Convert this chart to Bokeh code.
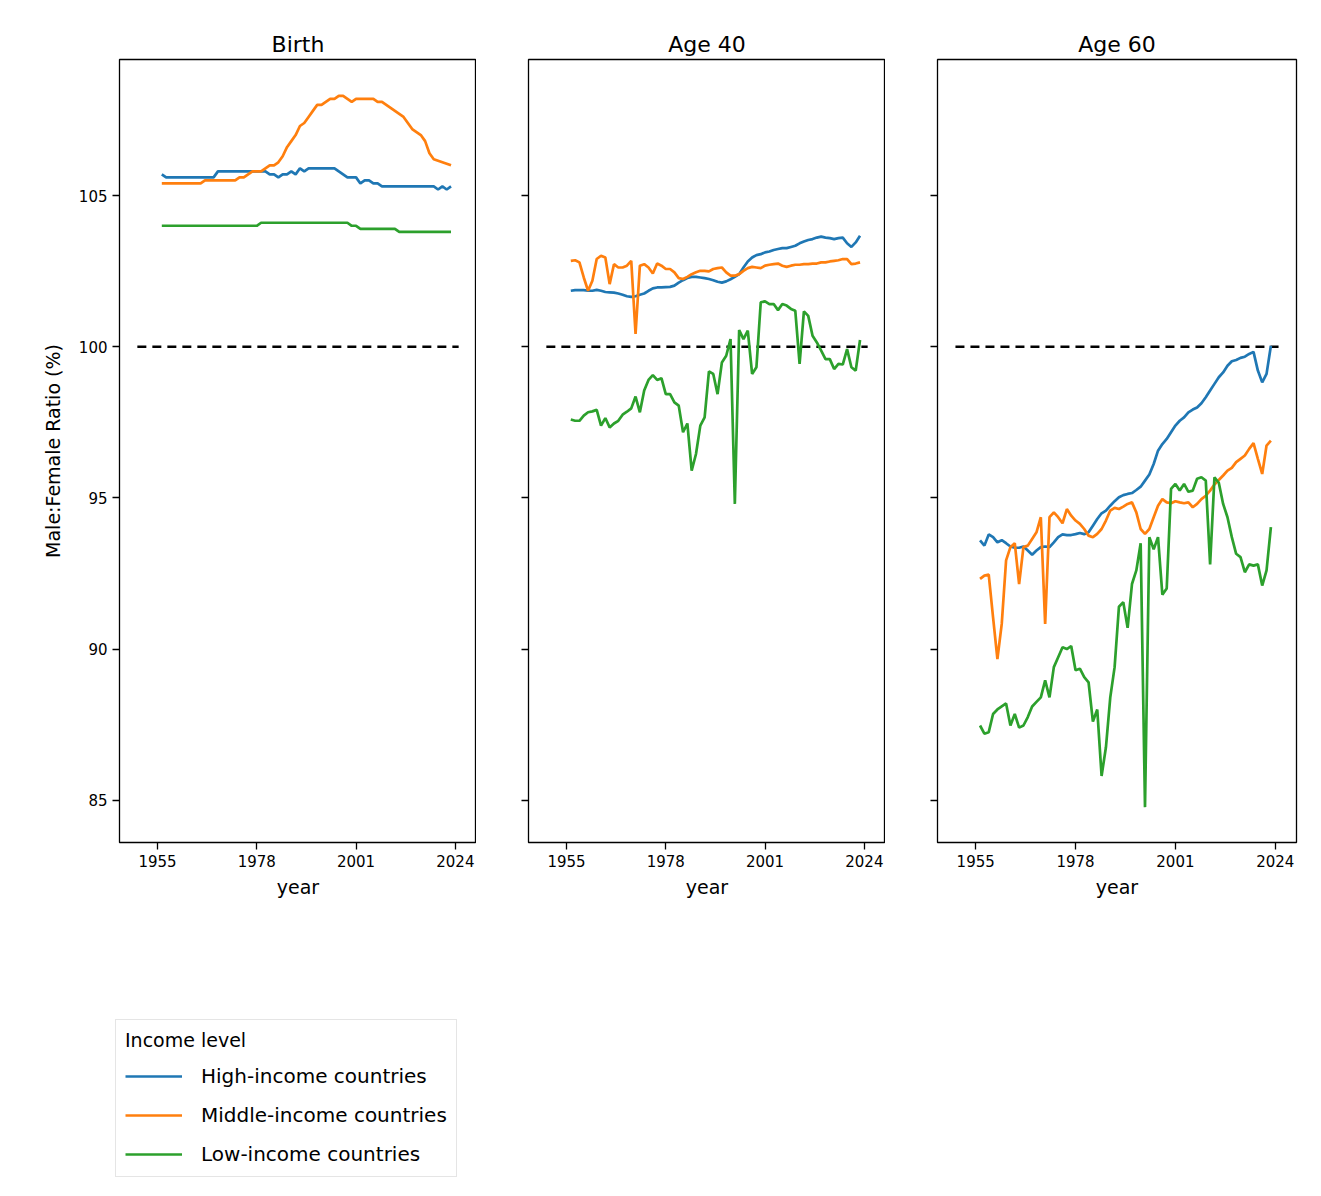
from bokeh.plotting import figure
from bokeh.layouts import column, row
from bokeh.models import Range1d, Legend, LegendItem, FixedTicker
from bokeh.embed import file_html
from bokeh.resources import INLINE

years = list(range(1956, 2024))
x_ticks = [1955, 1978, 2001, 2024]
y_ticks = [85, 90, 95, 100, 105]
panels = ["Birth", "Age 40", "Age 60"]
series_names = ["High-income countries", "Middle-income countries", "Low-income countries"]
colors = ["#1f77b4", "#ff7f0e", "#2ca02c"]

birth_high = [105.7] + [105.6]*12 + [105.8]*12 + [105.7, 105.7, 105.6, 105.7, 105.7, 105.8, 105.7, 105.9, 105.8] \
    + [105.9]*7 + [105.8, 105.7, 105.6, 105.6] + [105.6, 105.4, 105.5, 105.5, 105.4, 105.4] + [105.3]*13 \
    + [105.2, 105.3, 105.2, 105.3]
birth_mid = [105.4]*10 + [105.5]*8 + [105.6, 105.6, 105.7, 105.8] + [105.8, 105.8, 105.9, 106.0, 106.0, 106.1] \
    + [106.3, 106.6, 106.8, 107.0, 107.3, 107.4, 107.6] + [107.8, 108.0, 108.0, 108.1, 108.2, 108.2, 108.3, 108.3, 108.2, 108.1] \
    + [108.2, 108.2, 108.2, 108.2, 108.2, 108.1, 108.1, 108.0, 107.9, 107.8] \
    + [107.7, 107.6, 107.4, 107.2, 107.1, 107.0, 106.8, 106.4, 106.2, 106.15, 106.1, 106.05, 106.0]
birth_low = [104.0]*23 + [104.1]*21 + [104.0]*2 + [103.9]*9 + [103.8]*13

age40_high = [101.85, 101.87, 101.87, 101.87, 101.85, 101.85, 101.88, 101.85, 101.81, 101.8,
              101.79, 101.76, 101.72, 101.67, 101.65, 101.67, 101.72, 101.76, 101.85, 101.93,
              101.96, 101.96, 101.97, 101.98, 102.02, 102.12, 102.2, 102.27, 102.31, 102.31,
              102.29, 102.27, 102.24, 102.2, 102.15, 102.12, 102.16, 102.23, 102.31, 102.4,
              102.62, 102.82, 102.95, 103.03, 103.06, 103.12, 103.15, 103.2, 103.23, 103.26,
              103.26, 103.3, 103.34, 103.42, 103.48, 103.53, 103.56, 103.61, 103.64, 103.61,
              103.59, 103.56, 103.59, 103.61, 103.42, 103.3, 103.45, 103.67]
age40_mid = [102.84, 102.86, 102.79, 102.29, 101.85, 102.18, 102.9, 103.01, 102.95, 102.07,
             102.73, 102.62, 102.62, 102.68, 102.84, 100.42, 102.68, 102.73, 102.62, 102.42,
             102.75, 102.68, 102.57, 102.57, 102.46, 102.27, 102.24, 102.31, 102.4, 102.46,
             102.51, 102.51, 102.49, 102.57, 102.6, 102.62, 102.46, 102.35, 102.35, 102.4,
             102.51, 102.6, 102.64, 102.62, 102.6, 102.68, 102.71, 102.73, 102.75, 102.68,
             102.64, 102.68, 102.71, 102.71, 102.73, 102.73, 102.75, 102.75, 102.79, 102.79,
             102.82, 102.84, 102.86, 102.9, 102.9, 102.73, 102.75, 102.79]
age40_low = [97.59, 97.55, 97.55, 97.72, 97.83, 97.86, 97.91, 97.39, 97.64, 97.33,
             97.46, 97.55, 97.75, 97.85, 97.96, 98.35, 97.83, 98.55, 98.9, 99.06,
             98.9, 98.96, 98.43, 98.43, 98.16, 98.05, 97.17, 97.46, 95.9, 96.45,
             97.39, 97.66, 99.18, 99.1, 98.43, 99.48, 99.7, 100.25, 94.8, 100.55,
             100.25, 100.53, 99.1, 99.32, 101.47, 101.5, 101.41, 101.41, 101.21, 101.41,
             101.36, 101.25, 101.19, 99.43, 101.17, 101.02, 100.36, 100.14, 99.87, 99.59,
             99.59, 99.26, 99.43, 99.41, 99.92, 99.32, 99.21, 100.22]

age60_high = [93.59, 93.42, 93.79, 93.70, 93.53, 93.60, 93.50, 93.39, 93.35, 93.35,
              93.39, 93.26, 93.12, 93.26, 93.37, 93.39, 93.37, 93.53, 93.70, 93.79,
              93.77, 93.77, 93.80, 93.84, 93.80, 93.86, 94.08, 94.30, 94.49, 94.58,
              94.74, 94.89, 95.02, 95.09, 95.13, 95.16, 95.26, 95.37, 95.57, 95.77,
              96.12, 96.56, 96.78, 96.95, 97.17, 97.39, 97.55, 97.66, 97.83, 97.92,
              97.99, 98.13, 98.33, 98.55, 98.77, 98.99, 99.15, 99.37, 99.52, 99.56,
              99.63, 99.67, 99.76, 99.83, 99.21, 98.82, 99.10, 100.03]
age60_mid = [92.32, 92.43, 92.46, 91.05, 89.67, 90.83, 92.93, 93.37, 93.5, 92.15,
             93.37, 93.42, 93.64, 93.86, 94.36, 90.83, 94.36, 94.52, 94.36, 94.16,
             94.63, 94.41, 94.25, 94.14, 93.97, 93.75, 93.7, 93.81, 93.97, 94.25,
             94.58, 94.67, 94.63, 94.71, 94.8, 94.85, 94.52, 93.97, 93.81, 93.97,
             94.36, 94.74, 94.96, 94.85, 94.82, 94.89, 94.85, 94.82, 94.85, 94.69,
             94.8, 94.96, 95.07, 95.24, 95.44, 95.59, 95.74, 95.9, 95.99, 96.18,
             96.29, 96.4, 96.62, 96.81, 96.29, 95.79, 96.73, 96.89]
age60_low = [87.47, 87.2, 87.25, 87.85, 88.0, 88.1, 88.2, 87.47, 87.85, 87.4,
             87.47, 87.75, 88.1, 88.25, 88.4, 88.96, 88.4, 89.4, 89.73, 90.06,
             90.0, 90.1, 89.3, 89.35, 89.07, 88.9, 87.6, 88.0, 85.8, 86.75,
             88.4, 89.4, 91.4, 91.55, 90.7, 92.15, 92.6, 93.5, 84.77, 93.7,
             93.3, 93.7, 91.8, 92.0, 95.3, 95.46, 95.24, 95.46, 95.2, 95.24,
             95.63, 95.68, 95.57, 92.8, 95.68, 95.5, 94.8, 94.36, 93.7, 93.15,
             93.04, 92.54, 92.8, 92.76, 92.8, 92.1, 92.6, 94.03]

data = [[birth_high, birth_mid, birth_low],
        [age40_high, age40_mid, age40_low],
        [age60_high, age60_mid, age60_low]]

X0, X1 = 1946.2, 2028.9
Y0, Y1 = 83.6, 109.5
FONT = "DejaVu Sans"

figs = []
for i, name in enumerate(panels):
    left = 119 if i == 0 else 52
    right = 17 if i == 2 else 0
    fw = 359 if i == 2 else 357
    p = figure(width=left + fw + right, height=932, output_backend="svg", toolbar_location=None,
               x_range=Range1d(X0, X1), y_range=Range1d(Y0, Y1),
               min_border_left=left, min_border_right=right, min_border_top=59, min_border_bottom=90)
    p.title.text = name
    p.title.align = "center"
    p.title.text_font = FONT
    p.title.text_font_size = "22px"
    p.title.text_font_style = "normal"
    p.title.text_color = "black"
    p.title.standoff = 6
    p.grid.visible = False
    p.outline_line_color = "black"
    p.outline_line_width = 1.3
    p.background_fill_color = "white"
    p.border_fill_color = "white"
    for ax in (p.xaxis[0], p.yaxis[0]):
        ax.axis_line_color = None
        ax.major_tick_out = 7
        ax.major_tick_in = 0
        ax.major_tick_line_color = "black"
        ax.major_tick_line_width = 1.3
        ax.minor_tick_line_color = None
        ax.major_label_text_font = FONT
        ax.major_label_text_font_size = "15px"
        ax.major_label_text_color = "black"
        ax.axis_label_text_font = FONT
        ax.axis_label_text_font_size = "19px"
        ax.axis_label_text_font_style = "normal"
        ax.axis_label_text_color = "black"
    p.xaxis.ticker = FixedTicker(ticks=x_ticks)
    p.yaxis.ticker = FixedTicker(ticks=y_ticks)
    p.xaxis.axis_label = "year"
    p.xaxis.axis_label_standoff = 6
    if i == 0:
        p.yaxis.axis_label = "Male:Female Ratio (%)"
        p.yaxis.axis_label_standoff = 12
    else:
        p.yaxis.major_label_text_color = None
    span = X1 - X0
    p.line([X0 + 0.05 * span, X1 - 0.05 * span], [100, 100], line_color="black",
           line_dash="9 6", line_width=2.5)
    for s, c in zip(data[i], colors):
        p.line(years, s, line_color=c, line_width=2.7)
    figs.append(p)

lg = figure(width=560, height=256, output_backend="svg", toolbar_location=None,
            x_range=Range1d(0, 1), y_range=Range1d(0, 1),
            min_border_left=0, min_border_right=0, min_border_top=0, min_border_bottom=0)
lg.axis.visible = False
lg.grid.visible = False
lg.outline_line_color = None
items = []
for nm, c in zip(series_names, colors):
    r = lg.line([5, 6], [5, 6], line_color=c, line_width=2.7)
    items.append(LegendItem(label=nm, renderers=[r]))
leg = Legend(items=items, location=(115, 11), title="Income level")
leg.title_text_font = FONT
leg.title_text_font_size = "19px"
leg.title_text_font_style = "normal"
leg.title_text_color = "black"
leg.title_standoff = 12
leg.label_text_font = FONT
leg.label_text_font_size = "20px"
leg.label_text_color = "black"
leg.glyph_width = 57
leg.glyph_height = 26
leg.label_standoff = 19
leg.spacing = 13
leg.padding = 9
leg.margin = 0
leg.border_line_color = "#cccccc"
leg.border_line_width = 1.3
leg.background_fill_alpha = 1
lg.add_layout(leg, "center")

layout = column(row(*figs), lg)
open("out.html", "w").write(file_html(layout, INLINE))
